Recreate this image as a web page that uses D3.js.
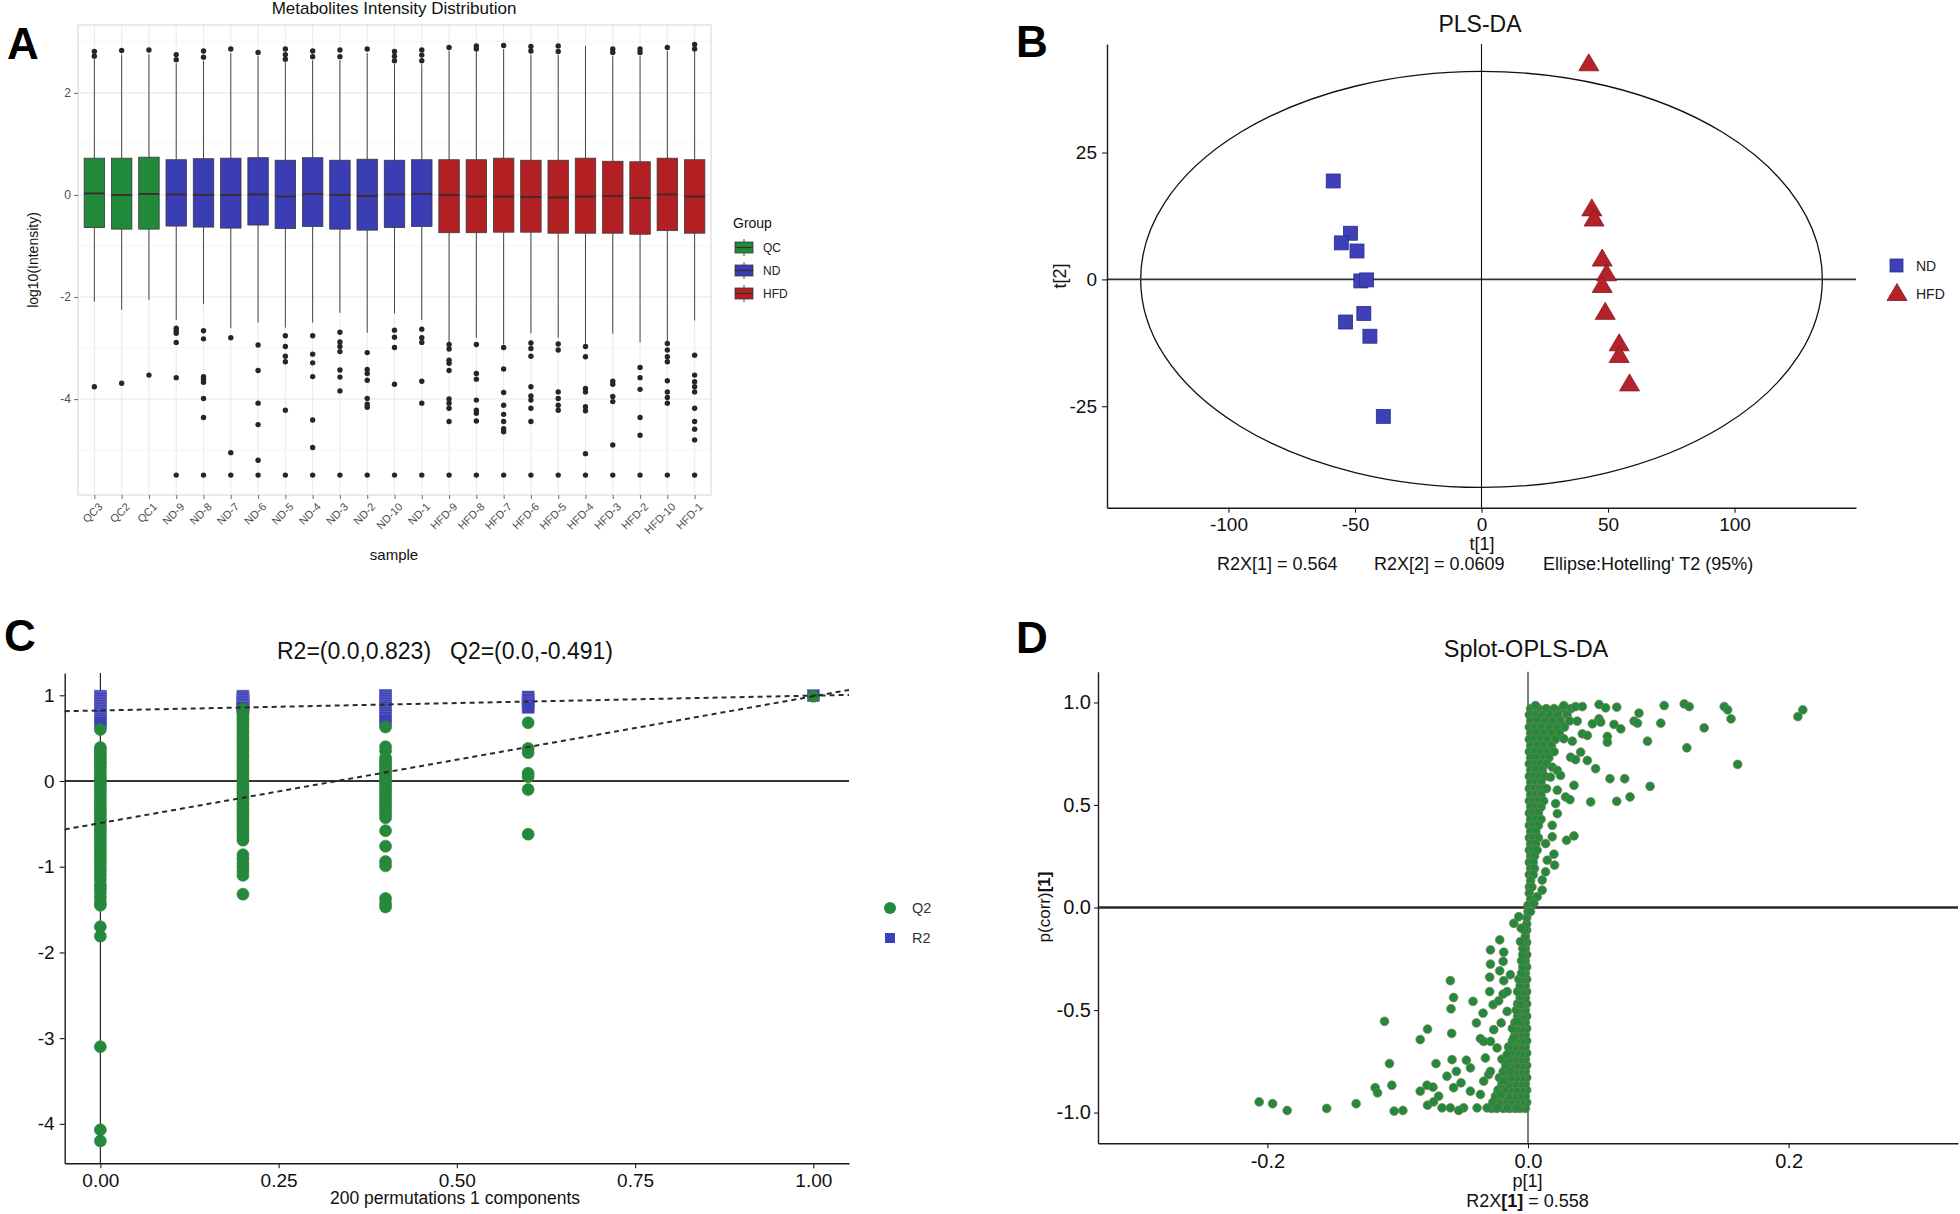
<!DOCTYPE html>
<html>
<head>
<meta charset="utf-8">
<script src="https://cdn.jsdelivr.net/npm/d3@7"></script>
<style>
  body { margin: 0; background: #fff; }
  svg { display: block; }
</style>
</head>
<body>
<svg id="fig" width="1960" height="1214"></svg>
<script>
// ---------- A: metabolite intensity boxplots ----------
const samples = ['QC3', 'QC2', 'QC1', 'ND-9', 'ND-8', 'ND-7', 'ND-6', 'ND-5', 'ND-4', 'ND-3', 'ND-2', 'ND-10', 'ND-1',
  'HFD-9', 'HFD-8', 'HFD-7', 'HFD-6', 'HFD-5', 'HFD-4', 'HFD-3', 'HFD-2', 'HFD-10', 'HFD-1'];
const groups = ['QC', 'ND', 'HFD'];
const boxQ3 = [0.72, 0.72, 0.74, 0.69, 0.71, 0.72, 0.73, 0.68, 0.73, 0.68, 0.70, 0.68, 0.69,
  0.69, 0.69, 0.72, 0.68, 0.68, 0.72, 0.66, 0.65, 0.72, 0.69];
const boxMed = [0.03, 0.0, 0.02, 0.01, 0.0, 0.0, 0.01, -0.03, 0.02, 0.0, -0.02, 0.01, 0.02,
  0.0, -0.03, -0.03, -0.04, -0.05, -0.03, -0.02, -0.06, 0.01, -0.03];
const boxQ1 = [-0.64, -0.67, -0.67, -0.61, -0.63, -0.65, -0.59, -0.66, -0.62, -0.67, -0.69, -0.64, -0.62,
  -0.74, -0.74, -0.73, -0.73, -0.75, -0.75, -0.75, -0.77, -0.70, -0.75];
const whiskerHigh = [2.66, 2.75, 2.76, 2.58, 2.63, 2.78, 2.72, 2.6, 2.64, 2.64, 2.78, 2.56, 2.56,
  2.82, 2.8, 2.86, 2.75, 2.74, 2.92, 2.72, 2.72, 2.82, 2.8];
const whiskerLow = [-2.09, -2.25, -2.06, -2.45, -2.14, -2.61, -2.5, -2.6, -2.5, -2.31, -2.7, -2.32, -2.45,
  -2.89, -2.8, -2.93, -2.71, -2.8, -2.93, -2.72, -2.89, -2.88, -2.46];
const outliersHigh = [
  [2.81, 2.72], [2.83], [2.84], [2.75, 2.65], [2.82, 2.7], [2.86], [2.79], [2.86, 2.75, 2.66], [2.82, 2.71],
  [2.84, 2.71], [2.86], [2.81, 2.72, 2.63], [2.84, 2.74, 2.63],
  [2.89], [2.92, 2.86], [2.93], [2.91, 2.82], [2.92, 2.81], [], [2.86, 2.79], [2.86, 2.79], [2.89], [2.95, 2.86]
];
const outliersLow = [
  [-3.76], [-3.69], [-3.53],
  [-2.61, -2.66, -2.71, -2.89, -3.58, -5.49],
  [-2.66, -2.82, -3.56, -3.61, -3.67, -3.99, -4.36, -5.49],
  [-2.8, -5.05, -5.49],
  [-2.94, -3.44, -4.08, -4.5, -5.2, -5.49],
  [-2.76, -2.97, -3.16, -3.27, -4.22, -5.49],
  [-2.76, -3.12, -3.29, -3.56, -4.41, -4.95, -5.49],
  [-2.69, -2.88, -2.97, -3.07, -3.43, -3.57, -3.84, -5.49],
  [-3.09, -3.42, -3.5, -3.63, -3.99, -4.1, -4.16, -5.49],
  [-2.65, -2.79, -2.99, -3.71, -5.49],
  [-2.63, -2.8, -2.89, -3.65, -4.08, -5.49],
  [-2.93, -3.02, -3.24, -3.3, -3.44, -4.0, -4.08, -4.18, -4.44, -5.49],
  [-2.93, -3.5, -3.61, -4.02, -4.22, -4.28, -4.43, -5.49],
  [-2.99, -3.41, -3.87, -4.12, -4.3, -4.44, -4.58, -4.64, -5.49],
  [-2.9, -3.01, -3.16, -3.76, -3.94, -4.02, -4.18, -4.44, -5.49],
  [-2.92, -3.04, -3.86, -3.99, -4.12, -4.22, -5.49],
  [-2.97, -3.17, -3.79, -3.86, -4.15, -4.23, -5.07, -5.49],
  [-3.65, -3.71, -3.95, -4.05, -4.9, -5.49],
  [-3.38, -3.58, -3.81, -4.36, -4.71, -5.49],
  [-2.91, -3.04, -3.17, -3.27, -3.64, -3.86, -3.97, -4.08, -5.49],
  [-3.14, -3.53, -3.66, -3.76, -3.86, -4.18, -4.44, -4.59, -4.8, -5.49]
];

// ---------- B: PLS-DA scores ----------
const ndT1 = [-58.6, -51.8, -55.4, -49.2, -47.7, -45.4, -46.5, -53.7, -44.1, -38.8];
const ndT2 = [19.4, 9.1, 7.2, 5.6, -0.3, -0.1, -6.7, -8.4, -11.2, -27.0];
const hfdT1 = [42.4, 43.6, 44.5, 47.7, 49.4, 47.7, 48.9, 54.4, 54.4, 58.5];
const hfdT2 = [42.6, 14.0, 12.0, 4.1, 1.2, -1.1, -6.4, -12.6, -14.9, -20.5];
const ellipseRadii = [134.7, 41.0];

// ---------- C: permutation test ----------
const permX = [0, 0.2, 0.4, 0.6];
const r2Perm = [
  [0.99, 0.97, 0.96, 0.94, 0.92, 0.9, 0.88, 0.86, 0.84, 0.82, 0.8, 0.78, 0.76, 0.73, 0.71, 0.68],
  [0.99, 0.97, 0.95, 0.93, 0.91, 0.89, 0.87, 0.86],
  [1.0, 0.98, 0.96, 0.94, 0.92, 0.9, 0.88, 0.86, 0.83, 0.8, 0.77, 0.74, 0.71],
  [0.98, 0.95, 0.92, 0.89, 0.86]
];
const q2Perm = [
  [0.6, 0.39, 0.36, 0.33, 0.3, 0.27, 0.23, 0.2, 0.16, 0.13, 0.09, 0.05, 0.02, -0.01, -0.04, -0.08, -0.11, -0.15,
    -0.18, -0.22, -0.26, -0.29, -0.33, -0.37, -0.4, -0.44, -0.47, -0.51, -0.55, -0.58, -0.62, -0.66, -0.69, -0.73,
    -0.77, -0.8, -0.84, -0.88, -0.92, -0.96, -1.01, -1.05, -1.1, -1.15, -1.21, -1.25, -1.3, -1.36, -1.42, -1.45,
    -1.7, -1.81, -3.1, -4.07, -4.2],
  [0.84, 0.8, 0.77, 0.73, 0.7, 0.66, 0.63, 0.59, 0.56, 0.52, 0.49, 0.45, 0.42, 0.38, 0.35, 0.31, 0.28, 0.24, 0.21,
    0.17, 0.14, 0.1, 0.07, 0.03, 0.0, -0.04, -0.07, -0.11, -0.14, -0.18, -0.21, -0.25, -0.28, -0.32, -0.35, -0.39,
    -0.42, -0.46, -0.5, -0.53, -0.57, -0.61, -0.65, -0.69, -0.86, -0.91, -0.96, -1.0, -1.05, -1.1, -1.32],
  [0.63, 0.4, 0.35, 0.27, 0.24, 0.21, 0.18, 0.15, 0.12, 0.09, 0.06, 0.03, 0.0, -0.03, -0.06, -0.1, -0.13, -0.17,
    -0.2, -0.24, -0.27, -0.31, -0.35, -0.39, -0.43, -0.58, -0.76, -0.94, -0.99, -1.37, -1.43, -1.47],
  [0.68, 0.38, 0.33, 0.09, 0.05, -0.1, -0.62]
];
const r2Model = 0.996, q2Model = 0.988;
const r2Intercept = 0.823, q2Intercept = -0.491;

// ---------- D: S-plot ----------
const splotUpper = [[0.0058, 0.985], [0.0275, 0.985], [0.0365, 0.98], [0.0417, 0.98], [0.0545, 0.99], [0.0596, 0.974],
  [0.0681, 0.977], [0.1045, 0.985], [0.1199, 0.993], [0.1237, 0.98], [0.1506, 0.98], [0.1532, 0.964], [0.2109, 0.964],
  [0.2071, 0.931], [0.0852, 0.948], [0.1558, 0.92], [0.1019, 0.899], [0.1352, 0.876], [0.0814, 0.909], [0.084, 0.899],
  [0.066, 0.893], [0.0712, 0.871], [0.0545, 0.92], [0.0494, 0.896], [0.0558, 0.904], [0.0378, 0.909], [0.0417, 0.847],
  [0.0455, 0.839], [0.0609, 0.834], [0.0609, 0.806], [0.0917, 0.811], [0.1219, 0.779], [0.0275, 0.823], [0.034, 0.811],
  [0.1609, 0.698], [0.0404, 0.758], [0.0327, 0.733], [0.0365, 0.721], [0.0455, 0.717], [0.0519, 0.677], [0.0186, 0.685],
  [0.0225, 0.669], [0.025, 0.644], [0.0629, 0.628], [0.0742, 0.628], [0.0937, 0.591], [0.0353, 0.596], [0.0225, 0.572],
  [0.0288, 0.539], [0.0322, 0.526], [0.0481, 0.515], [0.0681, 0.518], [0.0783, 0.539], [0.0173, 0.636], [0.0142, 0.58],
  [0.0212, 0.507], [0.0225, 0.458], [0.0186, 0.401], [0.0186, 0.345], [0.0296, 0.328], [0.0353, 0.349], [0.0135, 0.312],
  [0.0199, 0.26], [0.0204, 0.207], [0.0148, 0.231], [0.0135, 0.174], [0.0109, 0.134], [0.0109, 0.085], [0.0071, 0.053],
  [0.0045, 0.02], [0.0019, -0.02]];
const splotLower = [[-0.2063, -0.948], [-0.196, -0.957], [-0.1848, -0.99], [-0.1545, -0.98], [-0.1319, -0.957],
  [-0.1173, -0.879], [-0.1155, -0.904], [-0.1045, -0.867], [-0.1063, -0.761], [-0.1101, -0.555], [-0.1027, -0.993],
  [-0.096, -0.99], [-0.0827, -0.644], [-0.0771, -0.593], [-0.0827, -0.896], [-0.0775, -0.867], [-0.0729, -0.876],
  [-0.0706, -0.761], [-0.0771, -0.964], [-0.0686, -0.92], [-0.066, -0.977], [-0.0622, -0.823], [-0.0583, -0.742],
  [-0.0586, -0.614], [-0.0596, -0.357], [-0.0571, -0.439], [-0.0591, -0.494], [-0.0571, -0.879], [-0.055, -0.799],
  [-0.0514, -0.855], [-0.0473, -0.745], [-0.0442, -0.782], [-0.0422, -0.458], [-0.0396, -0.563], [-0.0365, -0.64],
  [-0.0345, -0.515], [-0.0327, -0.734], [-0.0294, -0.41], [-0.0294, -0.34], [-0.0288, -0.276], [-0.0288, -0.207],
  [-0.0217, -0.158], [-0.0186, -0.218], [-0.0191, -0.263], [-0.0217, -0.309], [-0.0186, -0.357], [-0.0191, -0.422],
  [-0.0268, -0.474], [-0.0225, -0.455], [-0.016, -0.507], [-0.0206, -0.563], [-0.0263, -0.596], [-0.0288, -0.653],
  [-0.0109, -0.077], [-0.0071, -0.045], [-0.0052, -0.101], [-0.0058, -0.166], [-0.0135, -0.328], [-0.016, -0.41],
  [-0.0494, -0.977], [-0.0442, -0.896], [-0.0365, -0.912], [-0.034, -0.847], [-0.0302, -0.815], [-0.0237, -0.685],
  [-0.034, -0.653], [-0.0288, -0.799], [-0.0206, -0.912], [-0.0186, -0.847], [-0.0135, -0.799], [-0.016, -0.717],
  [-0.0109, -0.636], [-0.0083, -0.555], [-0.0058, -0.474], [-0.0391, -0.977], [-0.0314, -0.977], [-0.0237, -0.977],
  [-0.016, -0.977], [-0.0083, -0.977], [-0.0596, -0.977], [-0.0532, -0.99], [-0.0725, -0.948]];
// dense band along p[1] = 0, one row per p(corr) level
const splotDenseUpper = [
  [0.97, [0.002, 0.008, 0.014, 0.02, 0.026, 0.033]], [0.94, [0.001, 0.006, 0.011, 0.017, 0.023, 0.03]],
  [0.91, [0.002, 0.007, 0.013, 0.019, 0.025, 0.032]], [0.88, [0.001, 0.005, 0.01, 0.016, 0.022, 0.028]],
  [0.85, [0.002, 0.007, 0.012, 0.018, 0.024]], [0.82, [0.001, 0.005, 0.01, 0.015, 0.021]],
  [0.79, [0.002, 0.007, 0.012, 0.018]], [0.76, [0.001, 0.005, 0.01, 0.015, 0.02]], [0.73, [0.002, 0.007, 0.012, 0.016]],
  [0.70, [0.001, 0.005, 0.01, 0.014]], [0.67, [0.002, 0.006, 0.011]], [0.64, [0.001, 0.005, 0.009, 0.013]],
  [0.61, [0.002, 0.006, 0.01]], [0.58, [0.001, 0.005, 0.009, 0.012]], [0.55, [0.002, 0.006, 0.01]],
  [0.52, [0.001, 0.004, 0.008, 0.012]], [0.49, [0.002, 0.006, 0.01]], [0.46, [0.001, 0.004, 0.008]],
  [0.43, [0.002, 0.006, 0.01]], [0.40, [0.001, 0.004, 0.008]], [0.37, [0.002, 0.006]], [0.34, [0.001, 0.004, 0.008]],
  [0.31, [0.002, 0.006]], [0.28, [0.001, 0.004, 0.007]], [0.25, [0.002, 0.005]], [0.22, [0.001, 0.004]],
  [0.19, [0.002, 0.005]], [0.16, [0.001, 0.004]], [0.13, [0.002]], [0.10, [0.001, 0.003]], [0.07, [0.001]],
  [0.04, [0.002]], [0.01, [0.0]]];
const splotDenseLower = [
  [-0.98, [-0.002, -0.006, -0.01, -0.014, -0.019, -0.024, -0.028]], [-0.95, [-0.001, -0.005, -0.009, -0.013, -0.018, -0.022, -0.027]],
  [-0.92, [-0.002, -0.006, -0.011, -0.015, -0.02, -0.025]], [-0.89, [-0.001, -0.005, -0.009, -0.014, -0.018, -0.023]],
  [-0.86, [-0.002, -0.006, -0.01, -0.015, -0.02]], [-0.83, [-0.001, -0.005, -0.009, -0.013, -0.018, -0.022]],
  [-0.80, [-0.002, -0.006, -0.01, -0.015, -0.019]], [-0.77, [-0.001, -0.005, -0.009, -0.013, -0.017]],
  [-0.74, [-0.002, -0.006, -0.01, -0.014, -0.02]], [-0.71, [-0.001, -0.005, -0.009, -0.013]],
  [-0.68, [-0.002, -0.006, -0.01, -0.015]], [-0.65, [-0.001, -0.005, -0.009, -0.012]], [-0.62, [-0.002, -0.006, -0.01]],
  [-0.59, [-0.001, -0.005, -0.009, -0.012]], [-0.56, [-0.002, -0.006, -0.01]], [-0.53, [-0.001, -0.004, -0.008]],
  [-0.50, [-0.002, -0.006, -0.009]], [-0.47, [-0.001, -0.004, -0.008]], [-0.44, [-0.002, -0.006]],
  [-0.41, [-0.001, -0.004, -0.008]], [-0.38, [-0.002, -0.006]], [-0.35, [-0.001, -0.004, -0.007]], [-0.32, [-0.002, -0.005]],
  [-0.29, [-0.001, -0.004]], [-0.26, [-0.002, -0.005]], [-0.23, [-0.001, -0.004]], [-0.20, [-0.002, -0.004]],
  [-0.17, [-0.001, -0.003]], [-0.14, [-0.002]], [-0.11, [-0.001, -0.003]], [-0.08, [-0.001]], [-0.05, [-0.001]], [-0.02, [0.0]]];

const FONT = '"Liberation Sans", Arial, Helvetica, sans-serif';
const groupColor = { QC: '#21893a', ND: '#3a3db4', HFD: '#b32024' };
const GREEN = '#248a3b', BLUE = '#3d40b6', RED = '#b5222a';

const svg = d3.select('#fig').attr('font-family', FONT);

function label(g, x, y, s, size, opts = {}) {
  return g.append('text')
    .attr('x', x).attr('y', y)
    .attr('font-size', size)
    .attr('fill', opts.fill || '#111')
    .attr('text-anchor', opts.anchor || 'start')
    .attr('font-weight', opts.weight || null)
    .text(s);
}

function vlabel(g, x, y, s, size) {
  return g.append('text')
    .attr('transform', `translate(${x},${y}) rotate(-90)`)
    .attr('font-size', size).attr('fill', '#111')
    .attr('text-anchor', 'middle')
    .text(s);
}

function styleAxis(g, size, color) {
  g.attr('font-family', FONT).attr('font-size', size);
  g.select('.domain').attr('stroke', '#1a1a1a').attr('stroke-width', 1.4);
  g.selectAll('.tick line').attr('stroke', '#1a1a1a').attr('stroke-width', 1.1);
  g.selectAll('.tick text').attr('fill', color);
}

function groupOf(name) {
  return groups.find(gr => name.startsWith(gr));
}

// ---------------- panel A ----------------
function drawBoxPanel() {
  const g = svg.append('g');
  const left = 78, right = 711, top = 25, bottom = 495;
  const x = d3.scalePoint().domain(samples).range([left, right]).padding(0.6);
  const y = d3.scaleLinear().domain([-5.88, 3.33]).range([bottom, top]);
  const bw = x.step() * 0.75;

  const grid = g.append('g');
  grid.selectAll('.minor').data([-5, -3, -1, 1, 3]).join('line').attr('class', 'minor')
    .attr('x1', left).attr('x2', right).attr('y1', d => y(d)).attr('y2', d => y(d))
    .attr('stroke', '#f2f2f2').attr('stroke-width', 0.8);
  grid.selectAll('.major').data([-4, -2, 0, 2]).join('line').attr('class', 'major')
    .attr('x1', left).attr('x2', right).attr('y1', d => y(d)).attr('y2', d => y(d))
    .attr('stroke', '#e8e8e8').attr('stroke-width', 1.1);
  grid.selectAll('.vert').data(samples).join('line').attr('class', 'vert')
    .attr('x1', d => x(d)).attr('x2', d => x(d)).attr('y1', top).attr('y2', bottom)
    .attr('stroke', '#ececec').attr('stroke-width', 1.1);
  g.append('rect').attr('x', left).attr('y', top).attr('width', right - left).attr('height', bottom - top)
    .attr('fill', 'none').attr('stroke', '#d4d4d4').attr('stroke-width', 1);

  const boxes = g.selectAll('.box').data(samples).join('g').attr('class', 'box')
    .attr('transform', d => `translate(${x(d)},0)`);
  boxes.append('line')
    .attr('y1', (d, i) => y(boxQ3[i])).attr('y2', (d, i) => y(whiskerHigh[i]))
    .attr('stroke', '#333').attr('stroke-width', 0.9);
  boxes.append('line')
    .attr('y1', (d, i) => y(boxQ1[i])).attr('y2', (d, i) => y(whiskerLow[i]))
    .attr('stroke', '#333').attr('stroke-width', 0.9);
  boxes.append('rect')
    .attr('x', -bw / 2).attr('width', bw)
    .attr('y', (d, i) => y(boxQ3[i])).attr('height', (d, i) => y(boxQ1[i]) - y(boxQ3[i]))
    .attr('fill', d => groupColor[groupOf(d)])
    .attr('stroke', '#3a3a3a').attr('stroke-width', 0.8);
  boxes.append('line')
    .attr('x1', -bw / 2).attr('x2', bw / 2)
    .attr('y1', (d, i) => y(boxMed[i])).attr('y2', (d, i) => y(boxMed[i]))
    .attr('stroke', '#3b2b2b').attr('stroke-width', 1.8);
  boxes.selectAll('circle')
    .data((d, i) => outliersHigh[i].concat(outliersLow[i]))
    .join('circle')
    .attr('cx', 0).attr('cy', v => y(v)).attr('r', 2.7)
    .attr('fill', '#262626');

  const ay = g.append('g').attr('transform', `translate(${left},0)`)
    .call(d3.axisLeft(y).tickValues([-4, -2, 0, 2]).tickSize(4).tickPadding(3).tickFormat(d => d));
  styleAxis(ay, 12, '#4d4d4d');
  ay.select('.domain').remove();
  ay.selectAll('.tick line').attr('stroke', '#777');

  const ax = g.append('g').attr('transform', `translate(0,${bottom})`)
    .call(d3.axisBottom(x).tickSize(4).tickSizeOuter(0));
  styleAxis(ax, 11, '#4d4d4d');
  ax.select('.domain').remove();
  ax.selectAll('.tick line').attr('stroke', '#777');
  ax.selectAll('.tick text')
    .attr('x', 0).attr('y', 0).attr('dy', '0.7em')
    .attr('text-anchor', 'end')
    .attr('transform', 'translate(3,7) rotate(-45)');

  label(g, 394, 14, 'Metabolites Intensity Distribution', 17, { anchor: 'middle' });
  label(g, 394, 560, 'sample', 15, { anchor: 'middle' });
  vlabel(g, 38, 260, 'log10(Intensity)', 14);

  // legend
  const lg = g.append('g');
  label(lg, 733, 228, 'Group', 14);
  groups.forEach((gr, i) => {
    const ky = 239 + i * 23;
    lg.append('line').attr('x1', 744).attr('x2', 744).attr('y1', ky).attr('y2', ky + 17)
      .attr('stroke', '#333').attr('stroke-width', 0.9);
    lg.append('rect').attr('x', 735).attr('y', ky + 3).attr('width', 18).attr('height', 11)
      .attr('fill', groupColor[gr]).attr('stroke', '#3a3a3a').attr('stroke-width', 0.8);
    lg.append('line').attr('x1', 735).attr('x2', 753).attr('y1', ky + 8.5).attr('y2', ky + 8.5)
      .attr('stroke', '#3b2b2b').attr('stroke-width', 1.2);
    label(lg, 763, ky + 13, gr, 12, { fill: '#222' });
  });
}

// ---------------- panel B ----------------
const triangle = 'M0,-9.5L10,7.5L-10,7.5Z';

function drawPlsda() {
  const g = svg.append('g');
  const left = 1107, right = 1856, top = 44, bottom = 507.7;
  const x = d3.scaleLinear().domain([-148, 148]).range([left, right]);
  const y = d3.scaleLinear().domain([-45, 46.4]).range([bottom, top]);

  g.append('ellipse')
    .attr('cx', x(0)).attr('cy', y(0))
    .attr('rx', x(ellipseRadii[0]) - x(0)).attr('ry', y(0) - y(ellipseRadii[1]))
    .attr('fill', 'none').attr('stroke', '#111').attr('stroke-width', 1.3);
  g.append('line').attr('x1', left).attr('x2', right).attr('y1', y(0)).attr('y2', y(0))
    .attr('stroke', '#333').attr('stroke-width', 1.8);
  g.append('line').attr('x1', x(0)).attr('x2', x(0)).attr('y1', top).attr('y2', bottom)
    .attr('stroke', '#111').attr('stroke-width', 1.1);

  const ax = g.append('g').attr('transform', `translate(0,${bottom})`)
    .call(d3.axisBottom(x).tickValues([-100, -50, 0, 50, 100]).tickSize(5).tickPadding(5).tickSizeOuter(0).tickFormat(d => d));
  styleAxis(ax, 19, '#111');
  const ay = g.append('g').attr('transform', `translate(${left},0)`)
    .call(d3.axisLeft(y).tickValues([-25, 0, 25]).tickSize(5).tickPadding(5).tickSizeOuter(0).tickFormat(d => d));
  styleAxis(ay, 19, '#111');

  g.selectAll('.nd').data(ndT1).join('rect').attr('class', 'nd')
    .attr('x', (d, i) => x(d) - 7).attr('y', (d, i) => y(ndT2[i]) - 7)
    .attr('width', 14).attr('height', 14)
    .attr('fill', BLUE).attr('stroke', '#2c2f8a').attr('stroke-width', 0.8);
  g.selectAll('.hfd').data(hfdT1).join('path').attr('class', 'hfd')
    .attr('d', triangle)
    .attr('transform', (d, i) => `translate(${x(d)},${y(hfdT2[i])})`)
    .attr('fill', RED).attr('stroke', '#7e1a1e').attr('stroke-width', 0.8);

  label(g, 1480, 31.5, 'PLS-DA', 23, { anchor: 'middle' });
  label(g, 1482, 550, 't[1]', 18, { anchor: 'middle' });
  vlabel(g, 1066, 276, 't[2]', 18);
  label(g, 1217, 570, 'R2X[1] = 0.564', 18);
  label(g, 1374, 570, 'R2X[2] = 0.0609', 18);
  label(g, 1543, 570, "Ellipse:Hotelling' T2 (95%)", 18);

  g.append('rect').attr('x', 1890).attr('y', 259).attr('width', 13).attr('height', 13)
    .attr('fill', BLUE).attr('stroke', '#2c2f8a').attr('stroke-width', 0.8);
  label(g, 1916, 271, 'ND', 14, { fill: '#222' });
  g.append('path').attr('d', triangle).attr('transform', 'translate(1897,293)')
    .attr('fill', RED).attr('stroke', '#7e1a1e').attr('stroke-width', 0.8);
  label(g, 1916, 299, 'HFD', 14, { fill: '#222' });
}

// ---------------- panel C ----------------
function drawPermutation() {
  const g = svg.append('g');
  const left = 64.7, right = 849, top = 673, bottom = 1163.3;
  const x = d3.scaleLinear().domain([-0.05, 1.05]).range([left, right]);
  const y = d3.scaleLinear().domain([-4.46, 1.26]).range([bottom, top]);

  g.append('line').attr('x1', left).attr('x2', right).attr('y1', y(0)).attr('y2', y(0))
    .attr('stroke', '#333').attr('stroke-width', 2);
  g.append('line').attr('x1', x(0)).attr('x2', x(0)).attr('y1', top).attr('y2', bottom)
    .attr('stroke', '#111').attr('stroke-width', 1.1);

  const ax = g.append('g').attr('transform', `translate(0,${bottom})`)
    .call(d3.axisBottom(x).tickValues([0, 0.25, 0.5, 0.75, 1]).tickSize(5).tickPadding(5).tickSizeOuter(0).tickFormat(d => d.toFixed(2)));
  styleAxis(ax, 19, '#111');
  const ay = g.append('g').attr('transform', `translate(${left},0)`)
    .call(d3.axisLeft(y).tickValues([-4, -3, -2, -1, 0, 1]).tickSize(5).tickPadding(5).tickSizeOuter(0).tickFormat(d => d));
  styleAxis(ay, 19, '#111');

  const r2Pts = permX.flatMap((px, i) => r2Perm[i].map(v => [px, v])).concat([[1, r2Model]]);
  const q2Pts = permX.flatMap((px, i) => q2Perm[i].map(v => [px, v])).concat([[1, q2Model]]);

  g.selectAll('.r2').data(r2Pts).join('rect').attr('class', 'r2')
    .attr('x', d => x(d[0]) - 6).attr('y', d => y(d[1]) - 6)
    .attr('width', 12).attr('height', 12)
    .attr('fill', BLUE).attr('stroke', '#6a6cc8').attr('stroke-width', 0.6);
  g.selectAll('.q2').data(q2Pts).join('circle').attr('class', 'q2')
    .attr('cx', d => x(d[0])).attr('cy', d => y(d[1])).attr('r', 6)
    .attr('fill', GREEN).attr('stroke', '#2f7d3c').attr('stroke-width', 0.6);

  const fits = [[r2Intercept, r2Model], [q2Intercept, q2Model]];
  const line = d3.line().x(d => x(d[0])).y(d => y(d[1]));
  g.selectAll('.fit').data(fits).join('path').attr('class', 'fit')
    .attr('d', f => line([-0.05, 1.05].map(t => [t, f[0] + (f[1] - f[0]) * t])))
    .attr('fill', 'none').attr('stroke', '#2a2a2a').attr('stroke-width', 2)
    .attr('stroke-dasharray', '5,4');

  label(g, 277, 659, 'R2=(0.0,0.823)', 23);
  label(g, 450, 659, 'Q2=(0.0,-0.491)', 23);
  label(g, 455, 1204, '200 permutations 1 components', 17.5, { anchor: 'middle' });

  g.append('circle').attr('cx', 890).attr('cy', 908).attr('r', 6).attr('fill', GREEN);
  label(g, 912, 913, 'Q2', 14.5, { fill: '#333' });
  g.append('rect').attr('x', 885).attr('y', 933).attr('width', 10).attr('height', 10).attr('fill', BLUE);
  label(g, 912, 943, 'R2', 14.5, { fill: '#333' });
}

// ---------------- panel D ----------------
function drawSplot() {
  const g = svg.append('g');
  const left = 1098, right = 1958, top = 671.7, bottom = 1143.3;
  const x = d3.scaleLinear().domain([-0.33, 0.33]).range([left, right]);
  const y = d3.scaleLinear().domain([-1.15, 1.15]).range([bottom, top]);

  g.append('line').attr('x1', left).attr('x2', right).attr('y1', y(0)).attr('y2', y(0))
    .attr('stroke', '#2a2a2a').attr('stroke-width', 2.6);
  g.append('line').attr('x1', x(0)).attr('x2', x(0)).attr('y1', top).attr('y2', bottom)
    .attr('stroke', '#111').attr('stroke-width', 1.1);

  const ax = g.append('g').attr('transform', `translate(0,${bottom})`)
    .call(d3.axisBottom(x).tickValues([-0.2, 0, 0.2]).tickSize(5).tickPadding(6).tickSizeOuter(0).tickFormat(d => d.toFixed(1)));
  styleAxis(ax, 20, '#111');
  const ay = g.append('g').attr('transform', `translate(${left},0)`)
    .call(d3.axisLeft(y).tickValues([-1, -0.5, 0, 0.5, 1]).tickSize(4).tickPadding(3).tickSizeOuter(0).tickFormat(d => d.toFixed(1)));
  styleAxis(ay, 20, '#111');

  const dense = splotDenseUpper.concat(splotDenseLower)
    .flatMap(([pc, ps]) => ps.map(p => [p, pc]));
  const pts = dense.concat(splotUpper, splotLower);
  g.selectAll('.sp').data(pts).join('circle').attr('class', 'sp')
    .attr('cx', d => x(d[0])).attr('cy', d => y(d[1])).attr('r', 4.4)
    .attr('fill', GREEN).attr('stroke', '#7b7c5c').attr('stroke-width', 0.7);

  label(g, 1526, 657, 'Splot-OPLS-DA', 23.5, { anchor: 'middle' });
  label(g, 1527.5, 1187, 'p[1]', 18, { anchor: 'middle' });
  const rt = g.append('text').attr('x', 1527.5).attr('y', 1207).attr('font-size', 18)
    .attr('text-anchor', 'middle').attr('fill', '#111');
  rt.append('tspan').text('R2X');
  rt.append('tspan').attr('font-weight', 'bold').text('[1]');
  rt.append('tspan').text(' = 0.558');
  const yt = g.append('text').attr('transform', 'translate(1050,907) rotate(-90)')
    .attr('font-size', 17).attr('text-anchor', 'middle').attr('fill', '#111');
  yt.append('tspan').text('p(corr)');
  yt.append('tspan').attr('font-weight', 'bold').text('[1]');
}

drawBoxPanel();
drawPlsda();
drawPermutation();
drawSplot();

// panel letters
label(svg, 7, 59, 'A', 44, { weight: 'bold', fill: '#000' });
label(svg, 1016, 57, 'B', 44, { weight: 'bold', fill: '#000' });
label(svg, 4, 651, 'C', 44, { weight: 'bold', fill: '#000' });
label(svg, 1016, 653, 'D', 44, { weight: 'bold', fill: '#000' });
</script>
</body>
</html>
